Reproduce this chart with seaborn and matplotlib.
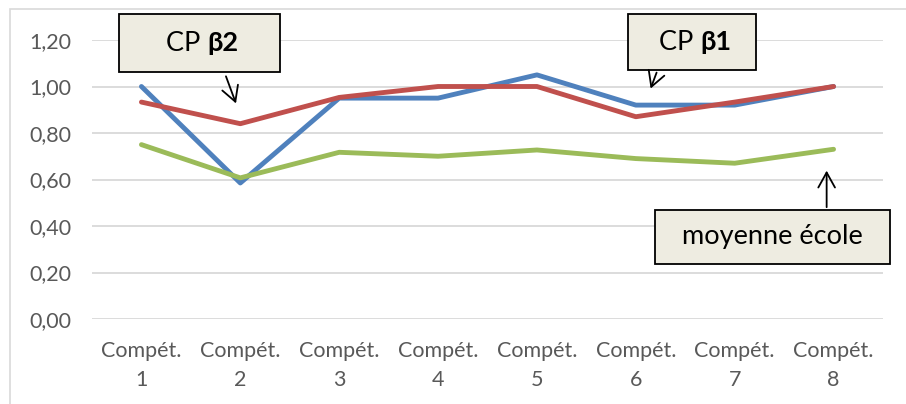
import pandas as pd
import matplotlib.pyplot as plt
import seaborn as sns
from matplotlib.patches import Rectangle

# data
competences = ["Compét.\n1", "Compét.\n2", "Compét.\n3", "Compét.\n4",
               "Compét.\n5", "Compét.\n6", "Compét.\n7", "Compét.\n8"]
cp_b1 = [1.00, 0.585, 0.95, 0.95, 1.05, 0.92, 0.92, 1.00]
cp_b2 = [0.933, 0.84, 0.953, 1.00, 1.00, 0.87, 0.933, 1.00]
moyenne_ecole = [0.75, 0.607, 0.717, 0.70, 0.727, 0.69, 0.67, 0.73]
y_ticks = [0.0, 0.2, 0.4, 0.6, 0.8, 1.0, 1.2]

series_names = ["CP β1", "CP β2", "moyenne école"]
colors = ["#4F81BD", "#C0504D", "#9BBB59"]


def build_frame():
    rows = []
    for name, vals in zip(series_names, [cp_b1, cp_b2, moyenne_ecole]):
        for i, v in enumerate(vals):
            rows.append({"idx": i, "value": v, "serie": name})
    return pd.DataFrame(rows)


def callout(ax, x0, x1, y0, y1, parts, size=19.5):
    ax.add_patch(Rectangle((x0, y0), x1 - x0, y1 - y0, facecolor="#EEECE1",
                           edgecolor="black", linewidth=1.3, clip_on=False, zorder=5))
    xc, yc = (x0 + x1) / 2, (y0 + y1) / 2
    if len(parts) == 1:
        ax.text(xc, yc, parts[0], ha="center", va="center", fontsize=size,
                color="black", zorder=6)
    else:
        # normal part on the left, bold part on the right of a split point
        ax.text(xc + 0.08, yc, parts[0] + " ", ha="right", va="center",
                fontsize=size, color="black", zorder=6)
        ax.text(xc + 0.08, yc, parts[1], ha="left", va="center",
                fontsize=size, fontweight="bold", color="black", zorder=6)


def arrow(ax, tail, tip):
    ax.annotate("", xy=tip, xytext=tail,
                arrowprops=dict(arrowstyle="->,head_length=0.9,head_width=0.5",
                                color="black", lw=1.3),
                annotation_clip=False, zorder=6)


def main():
    sns.set_theme(style="white")
    plt.rcParams["font.family"] = ["Lato", "DejaVu Sans"]

    df = build_frame()

    fig = plt.figure(figsize=(9.06, 4.04), dpi=100)
    ax = fig.add_axes([92 / 906, 85 / 404, 791 / 906, 279 / 404])

    # chart frame border (only the top/left edges are in view), kept under the callouts
    frame = Rectangle((10 / 906, -0.1), 1.2, 1 - 9 / 404 + 0.1,
                      transform=fig.transFigure, facecolor="none",
                      edgecolor="#D9D9D9", linewidth=1.2, zorder=-1, clip_on=False)
    ax.add_artist(frame)

    for y in y_ticks:
        ax.axhline(y, color="#D9D9D9", linewidth=1.3, zorder=0)

    sns.lineplot(data=df, x="idx", y="value", hue="serie", palette=colors,
                 hue_order=series_names, linewidth=3.5, sort=False,
                 legend=False, ax=ax, zorder=3)

    ax.set_xlim(-0.5, 7.5)
    ax.set_ylim(0, 1.2)
    ax.set_xticks(range(len(competences)))
    ax.set_xticklabels(competences, fontsize=15.5, color="#595959", linespacing=1.55)
    ax.set_yticks(y_ticks)
    ax.set_yticklabels([f"{v:.2f}".replace(".", ",") for v in y_ticks],
                       fontsize=15.5, color="#595959")
    ax.tick_params(axis="y", length=0, pad=15)
    ax.tick_params(axis="x", length=0, pad=16)
    ax.set_xlabel("")
    ax.set_ylabel("")
    for s in ax.spines.values():
        s.set_visible(False)
    ax.set_facecolor("none")

    # callouts
    callout(ax, -0.23, 1.40, 1.062, 1.31, ["CP", "β2"])
    arrow(ax, (0.845, 1.055), (0.966, 0.916))
    callout(ax, 4.92, 6.22, 1.071, 1.31, ["CP", "β1"])
    arrow(ax, (5.22, 1.071), (5.14, 0.98))
    callout(ax, 5.19, 7.57, 0.237, 0.469, ["moyenne école"])
    arrow(ax, (6.93, 0.469), (6.93, 0.65))

    fig.savefig("out.png", dpi=100)
    plt.close(fig)


if __name__ == "__main__":
    main()
